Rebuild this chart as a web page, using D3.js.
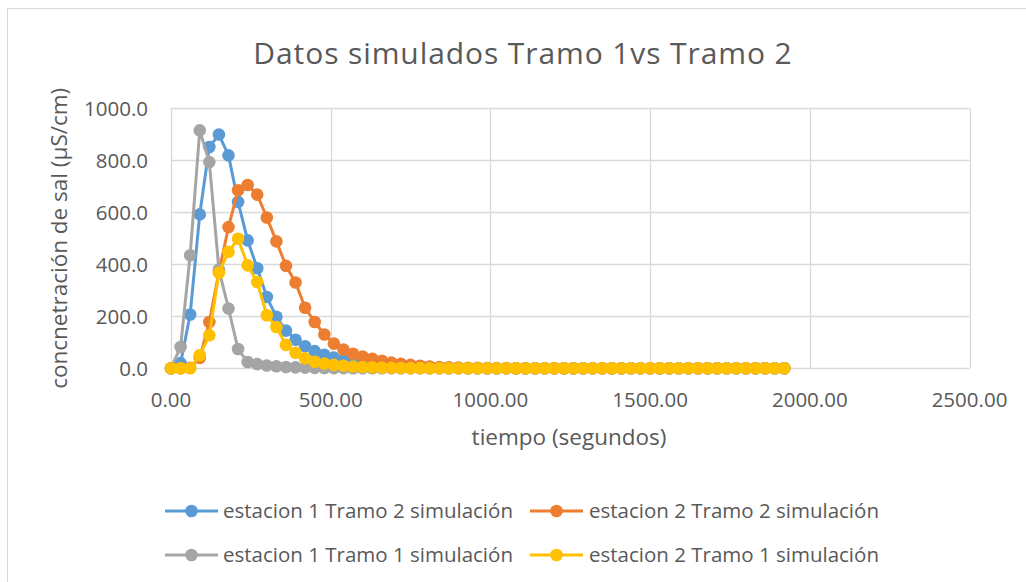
<!DOCTYPE html>
<html>
<head>
<meta charset="utf-8">
<script src="https://cdn.jsdelivr.net/npm/d3@7"></script>
<style>
  body { margin: 0; background: #fff; }
  svg { display: block; font-family: "Open Sans", "Noto Sans", sans-serif; }
</style>
</head>
<body>
<div id="chart"></div>
<script>
// time in seconds, one sample each 30 s
var tiempo = [
  0, 30, 60, 90, 120, 150, 180, 210, 240, 270,
  300, 330, 360, 390, 420, 450, 480, 510, 540, 570,
  600, 630, 660, 690, 720, 750, 780, 810, 840, 870,
  900, 930, 960, 990, 1020, 1050, 1080, 1110, 1140, 1170,
  1200, 1230, 1260, 1290, 1320, 1350, 1380, 1410, 1440, 1470,
  1500, 1530, 1560, 1590, 1620, 1650, 1680, 1710, 1740, 1770,
  1800, 1830, 1860, 1890, 1920
];

// concentrations (uS/cm)
var est1Tramo2 = [
  0, 20, 207, 592, 851, 899, 819, 640, 492, 385,
  274, 198, 145, 110, 85, 66, 52, 41, 32, 25,
  19, 14, 10, 7, 5, 3.5, 2.5, 1.8, 1.2, 0.8,
  0.5, 0.3, 0.2, 0.1, 0, 0, 0, 0, 0, 0,
  0, 0, 0, 0, 0, 0, 0, 0, 0, 0,
  0, 0, 0, 0, 0, 0, 0, 0, 0, 0,
  0, 0, 0, 0, 0
];
var est2Tramo2 = [
  0, 0, 2, 40, 178, 370, 543, 685, 705, 668,
  580, 488, 394, 330, 233, 178, 130, 95, 72, 56,
  45, 37, 29, 22, 17, 13, 10, 7, 5, 4,
  3, 2, 1.5, 1, 0.7, 0.5, 0.3, 0.2, 0.1, 0,
  0, 0, 0, 0, 0, 0, 0, 0, 0, 0,
  0, 0, 0, 0, 0, 0, 0, 0, 0, 0,
  0, 0, 0, 0, 0
];
var est1Tramo1 = [
  0, 82, 435, 915, 793, 380, 230, 74, 24, 16,
  11, 8, 5, 3.5, 2.5, 1.8, 1.2, 0.8, 0.5, 0.3,
  0.2, 0.1, 0, 0, 0, 0, 0, 0, 0, 0,
  0, 0, 0, 0, 0, 0, 0, 0, 0, 0,
  0, 0, 0, 0, 0, 0, 0, 0, 0, 0,
  0, 0, 0, 0, 0, 0, 0, 0, 0, 0,
  0, 0, 0, 0, 0
];
var est2Tramo1 = [
  0, 0, 0, 50, 127, 367, 448, 498, 396, 332,
  204, 159, 90, 60, 38, 25, 18, 13, 10, 7,
  5, 3.5, 2.5, 1.8, 1.2, 0.8, 0.5, 0.3, 0.2, 0.1,
  0, 0, 0, 0, 0, 0, 0, 0, 0, 0,
  0, 0, 0, 0, 0, 0, 0, 0, 0, 0,
  0, 0, 0, 0, 0, 0, 0, 0, 0, 0,
  0, 0, 0, 0, 0
];

var seriesNames = [
  "estacion 1 Tramo 2 simulación",
  "estacion 2 Tramo 2 simulación",
  "estacion 1 Tramo 1 simulación",
  "estacion 2 Tramo 1 simulación"
];
var seriesValues = [est1Tramo2, est2Tramo2, est1Tramo1, est2Tramo1];
var xTicks = [0, 500, 1000, 1500, 2000, 2500];
var yTicks = [0, 200, 400, 600, 800, 1000];

var colors = ["#5B9BD5", "#ED7D31", "#A5A5A5", "#FFC000"];

var W = 1026, H = 582;

var svg = d3.select("#chart").append("svg")
    .attr("width", W)
    .attr("height", H);

// chart border
svg.append("rect")
    .attr("x", 7.5).attr("y", 8.5)
    .attr("width", W + 20).attr("height", H + 20)
    .attr("fill", "#fff")
    .attr("stroke", "#d9d9d9");

var x = d3.scaleLinear().domain([0, 2500]).range([171, 969.5]);
var y = d3.scaleLinear().domain([0, 1000]).range([368.3, 108.3]);

// grid
svg.append("g")
    .selectAll("line.h")
    .data(yTicks)
    .enter().append("line")
    .attr("x1", x(0)).attr("x2", x(2500))
    .attr("y1", function(d) { return Math.round(y(d)) + 0.5; })
    .attr("y2", function(d) { return Math.round(y(d)) + 0.5; })
    .attr("stroke", "#d9d9d9")
    .attr("stroke-width", 1.3);
svg.append("g")
    .selectAll("line.v")
    .data(xTicks)
    .enter().append("line")
    .attr("y1", y(0)).attr("y2", y(1000))
    .attr("x1", function(d) { return Math.round(x(d)) + 0.5; })
    .attr("x2", function(d) { return Math.round(x(d)) + 0.5; })
    .attr("stroke", "#d9d9d9")
    .attr("stroke-width", 1.3);

// tick labels
svg.append("g")
    .selectAll("text")
    .data(xTicks)
    .enter().append("text")
    .attr("x", function(d) { return x(d); })
    .attr("y", 407)
    .attr("text-anchor", "middle")
    .attr("fill", "#595959")
    .style("font-size", "20.5px")
    .text(function(d) { return d3.format(".2f")(d); });
svg.append("g")
    .selectAll("text")
    .data(yTicks)
    .enter().append("text")
    .attr("x", 148)
    .attr("y", function(d) { return y(d) + 7.5; })
    .attr("text-anchor", "end")
    .attr("fill", "#595959")
    .style("font-size", "20.5px")
    .text(function(d) { return d3.format(".1f")(d); });

// axis titles
svg.append("text")
    .attr("x", 569)
    .attr("y", 445)
    .attr("text-anchor", "middle")
    .attr("fill", "#595959")
    .style("font-size", "22.5px")
    .text("tiempo (segundos)");
svg.append("text")
    .attr("transform", "translate(67," + ((y(0) + y(1000)) / 2) + ") rotate(-90)")
    .attr("text-anchor", "middle")
    .attr("fill", "#595959")
    .style("font-size", "22.5px")
    .text("concnetración de sal (µS/cm)");

// title
svg.append("text")
    .attr("x", 523)
    .attr("y", 64)
    .attr("text-anchor", "middle")
    .attr("fill", "#595959")
    .style("font-size", "30px")
    .style("letter-spacing", "0.9px")
    .text("Datos simulados Tramo 1vs Tramo 2");

// series
var line = d3.line()
    .x(function(d, i) { return x(tiempo[i]); })
    .y(function(d) { return y(d); });

seriesValues.forEach(function(vals, k) {
    var g = svg.append("g");
    g.append("path")
        .datum(vals)
        .attr("d", line)
        .attr("fill", "none")
        .attr("stroke", colors[k])
        .attr("stroke-width", 3)
        .attr("stroke-linejoin", "round");
    g.selectAll("circle")
        .data(vals)
        .enter().append("circle")
        .attr("cx", function(d, i) { return x(tiempo[i]); })
        .attr("cy", function(d) { return y(d); })
        .attr("r", 6.3)
        .attr("fill", colors[k]);
});

// legend
var legendPos = [
  {lx: 165, ly: 511, tx: 223, ty: 517.5},
  {lx: 530, ly: 511, tx: 589, ty: 517.5},
  {lx: 165, ly: 555, tx: 223, ty: 561.5},
  {lx: 530, ly: 555, tx: 589, ty: 561.5}
];
var legend = svg.append("g")
    .selectAll("g")
    .data(seriesNames)
    .enter().append("g");
legend.append("line")
    .attr("x1", function(d, i) { return legendPos[i].lx; })
    .attr("x2", function(d, i) { return legendPos[i].lx + 53; })
    .attr("y1", function(d, i) { return legendPos[i].ly; })
    .attr("y2", function(d, i) { return legendPos[i].ly; })
    .attr("stroke", function(d, i) { return colors[i]; })
    .attr("stroke-width", 3);
legend.append("circle")
    .attr("cx", function(d, i) { return legendPos[i].lx + 26.5; })
    .attr("cy", function(d, i) { return legendPos[i].ly; })
    .attr("r", 6.3)
    .attr("fill", function(d, i) { return colors[i]; });
legend.append("text")
    .attr("x", function(d, i) { return legendPos[i].tx; })
    .attr("y", function(d, i) { return legendPos[i].ty; })
    .attr("fill", "#595959")
    .style("font-size", "20.5px")
    .text(function(d) { return d; });
</script>
</body>
</html>
